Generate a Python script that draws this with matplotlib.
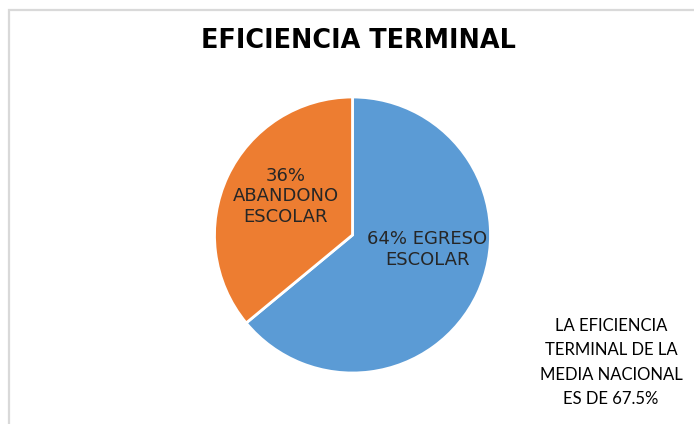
"""
Pie chart of terminal efficiency (egreso vs abandono escolar).
"""

from pathlib import Path

import matplotlib.pyplot as plt
from matplotlib.patches import Rectangle


OUTPUT_PATH = Path("out.png")

TITLE = "EFICIENCIA TERMINAL"
CATEGORIES = ["EGRESO ESCOLAR", "ABANDONO ESCOLAR"]
VALUES = [64, 36]
COLORS = ["#5B9BD5", "#ED7D31"]
SLICE_LABELS = ["64% EGRESO\nESCOLAR", "36%\nABANDONO\nESCOLAR"]
NOTE = "LA EFICIENCIA\nTERMINAL DE LA\nMEDIA NACIONAL\nES DE 67.5%"

FIG_W, FIG_H = 694, 424
PIE_CENTER = (352.5, 235)  # pixels from top-left
PIE_RADIUS = 138


def px_to_fig(x: float, y: float) -> tuple[float, float]:
    """Convert pixel coordinates (origin top-left) to figure fraction."""
    return x / FIG_W, 1 - y / FIG_H


def plot_pie(output_path: Path) -> None:
    fig = plt.figure(figsize=(FIG_W / 100, FIG_H / 100), dpi=100)
    fig.patch.set_facecolor("white")

    # chart-area border (only top and left edges are visible in the crop)
    x0, y0 = px_to_fig(9, 10)
    fig.patches.append(
        Rectangle((x0, -0.1), 1.2, y0 + 0.1, transform=fig.transFigure,
                  fill=False, edgecolor="#D9D9D9", linewidth=1.6)
    )

    cx, cy = PIE_CENTER
    left, bottom = px_to_fig(cx - PIE_RADIUS, cy + PIE_RADIUS)
    ax = fig.add_axes([left, bottom, 2 * PIE_RADIUS / FIG_W, 2 * PIE_RADIUS / FIG_H])

    ax.pie(
        VALUES,
        colors=COLORS,
        startangle=90,
        counterclock=False,
        radius=1.0,
        wedgeprops={"edgecolor": "white", "linewidth": 2},
    )
    ax.set_xlim(-1, 1)
    ax.set_ylim(-1, 1)
    ax.set_aspect("equal")
    ax.axis("off")

    # slice labels, placed inside each wedge
    label_pos = [(0.54, -0.105), (-0.482, 0.28)]
    for text, (lx, ly) in zip(SLICE_LABELS, label_pos):
        ax.text(lx, ly, text, ha="center", va="center", fontsize=13,
                color="#262626", family="DejaVu Sans", linespacing=1.2)

    tx, ty = px_to_fig(358.5, 41.5)
    fig.text(tx, ty, TITLE, ha="center", va="center", fontsize=18.4,
             fontweight="bold", family="DejaVu Sans", color="black")

    nx, ny = px_to_fig(611, 362.5)
    fig.text(nx, ny, NOTE, ha="center", va="center", fontsize=12,
             family="Lato", color="black", linespacing=1.65)

    fig.savefig(output_path, dpi=100)
    plt.close(fig)


def main() -> None:
    plot_pie(OUTPUT_PATH)


if __name__ == "__main__":
    main()
